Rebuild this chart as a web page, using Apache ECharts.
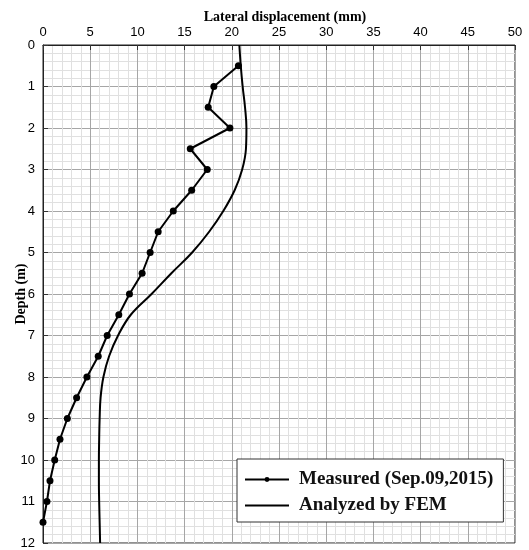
<!DOCTYPE html>
<html>
<head>
<meta charset="utf-8">
<script src="https://cdn.jsdelivr.net/npm/echarts@6/dist/echarts.min.js"></script>
<style>html,body{margin:0;padding:0;background:#fff}#c{width:529px;height:550px}</style>
</head>
<body>
<div id="c"></div>
<script>
// Measured lateral displacement (mm) at depths (m)
var measuredDepth = [0.5,1,1.5,2,2.5,3,3.5,4,4.5,5,5.5,6,6.5,7,7.5,8,8.5,9,9.5,10,10.5,11,11.5];
var measuredDisp  = [20.7,18.1,17.5,19.8,15.6,17.4,15.75,13.8,12.2,11.35,10.5,9.16,8.03,6.8,5.85,4.65,3.56,2.58,1.8,1.24,0.74,0.42,0.0];
// FEM analysed curve
var femDepth = [0,0.5,1,1.5,2,2.5,3,3.5,4,4.5,5,5.5,6,6.5,7,7.5,8,8.5,9,9.5,10,10.5,11,11.5,12];
var femDisp  = [20.8,20.95,21.15,21.4,21.55,21.5,21.1,20.3,19.1,17.6,15.8,13.6,11.5,9.3,7.95,7.0,6.4,6.1,6.0,5.95,5.92,5.92,5.95,6.0,6.05];
var seriesNames = ['Measured (Sep.09,2015)', 'Analyzed by FEM'];

function pairs(xs, ys){ return xs.map(function(x,i){ return [x, ys[i]]; }); }

var chart = echarts.init(document.getElementById('c'), null, {renderer:'canvas'});
var lbl = {color:'#000', fontFamily:'Liberation Sans, Arial, sans-serif', fontSize:13};
var nameFont = {fontFamily:'Liberation Serif, Times New Roman, serif', fontWeight:'bold', fontSize:14, color:'#000'};
chart.setOption({
  animation:false,
  backgroundColor:'#fff',
  grid:{left:43, top:45, right:14, bottom:7, containLabel:false, outerBoundsMode:'none',
        show:true, borderColor:'#222', borderWidth:1, backgroundColor:'transparent'},
  xAxis:{
    type:'value', position:'top', min:0, max:50, interval:5,
    name:'Lateral displacement (mm)', nameLocation:'middle', nameGap:21, nameMoveOverlap:false,
    nameTextStyle:Object.assign({padding:[0,0,0,12]}, nameFont),
    axisLine:{show:true, lineStyle:{color:'#222', width:1}},
    axisTick:{show:true, inside:true, length:5, lineStyle:{color:'#333'}},
    axisLabel:Object.assign({margin:6}, lbl),
    splitLine:{show:true, lineStyle:{color:'#a6a6a6', width:1}},
    minorTick:{show:false, splitNumber:5},
    minorSplitLine:{show:true, lineStyle:{color:'#e0e0e0', width:1}}
  },
  yAxis:{
    type:'value', inverse:true, min:0, max:12, interval:1,
    name:'Depth (m)', nameLocation:'middle', nameGap:15, nameRotate:90, nameMoveOverlap:false,
    nameTextStyle:nameFont,
    axisLine:{show:true, lineStyle:{color:'#222', width:1}},
    axisTick:{show:true, inside:true, length:5, lineStyle:{color:'#333'}},
    axisLabel:Object.assign({margin:8}, lbl),
    splitLine:{show:true, lineStyle:{color:'#a6a6a6', width:1}},
    minorTick:{show:false, splitNumber:5},
    minorSplitLine:{show:true, lineStyle:{color:'#e0e0e0', width:1}}
  },
  legend:{
    left:237, top:459, orient:'vertical',
    backgroundColor:'#fff', borderColor:'#333', borderWidth:1,
    padding:[11,10,7,7], itemGap:7, itemWidth:44, itemHeight:6,
    textStyle:{fontFamily:'Liberation Serif, Times New Roman, serif', fontWeight:'bold', fontSize:19, color:'#111', padding:[0,0,0,5]},
    data:[{name:seriesNames[0]},{name:seriesNames[1], itemStyle:{opacity:0}}]
  },
  series:[
    {name:seriesNames[0], type:'line', data:pairs(measuredDisp, measuredDepth),
     symbol:'circle', symbolSize:7, showSymbol:true,
     lineStyle:{color:'#000', width:2}, itemStyle:{color:'#000'}, z:3},
    {name:seriesNames[1], type:'line', data:pairs(femDisp, femDepth), smooth:0.4,
     symbol:'none', lineStyle:{color:'#000', width:2}, itemStyle:{color:'#000'}, z:2}
  ]
});
</script>
</body>
</html>
